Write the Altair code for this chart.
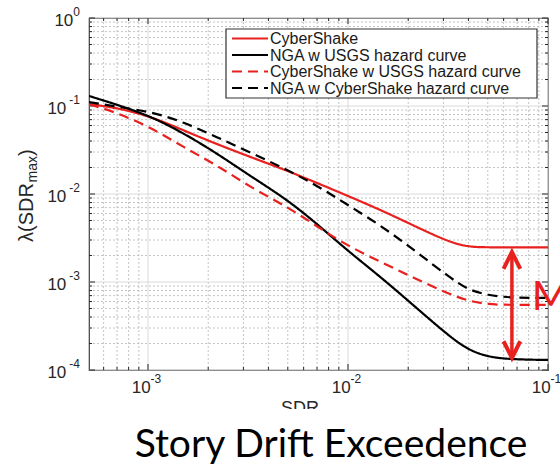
import altair as alt
import pandas as pd

# ---- data -------------------------------------------------------------
sdr = [5.07e-4, 7.1e-4, 1.05e-3, 1.5e-3, 2.2e-3, 3.3e-3, 5.0e-3, 7.2e-3,
       1.0e-2, 1.5e-2, 2.2e-2, 3.2e-2, 4.0e-2, 5.0e-2, 6.5e-2, 1.0e-1]

cybershake = [0.105, 0.095, 0.075, 0.053, 0.037, 0.026, 0.0183, 0.0130,
              0.0095, 0.0064, 0.00422, 0.00285, 0.0025, 0.00248, 0.00247, 0.00247]
nga_usgs = [0.130, 0.1026, 0.075, 0.0493, 0.0292, 0.0156, 0.00855, 0.00433,
            0.00225, 0.00108, 5.07e-4, 2.43e-4, 1.69e-4, 1.41e-4, 1.32e-4, 1.30e-4]
cybershake_usgs = [0.105, 0.083, 0.056, 0.0342, 0.0214, 0.0117, 0.0071, 0.00411,
                   0.00256, 0.00164, 0.00108, 7.3e-4, 6.1e-4, 5.55e-4, 5.5e-4, 5.5e-4]
nga_cybershake = [0.111, 0.0975, 0.0855, 0.0658, 0.0445, 0.0292, 0.0187, 0.0120,
                  0.0075, 0.0042, 0.0022, 0.00114, 8.1e-4, 7.1e-4, 6.6e-4, 6.6e-4]

series_names = ["CyberShake", "NGA w USGS hazard curve",
                "CyberShake w USGS hazard curve", "NGA w CyberShake hazard curve"]
series_colors = ["#e8201e", "#000000", "#e8201e", "#000000"]
series_dashes = [[1, 0], [1, 0], [10, 6], [10, 6]]

# double arrow marking the spread between the two tail levels
arrow_sdr = [0.066]
arrow_top = [0.00219]
arrow_bottom = [1.37e-4]

x_major = [1e-3, 1e-2, 1e-1]
x_exp = ["-3", "-2", "-1"]
y_major = [1e-4, 1e-3, 1e-2, 1e-1, 1.0]
y_exp = ["-4", "-3", "-2", "-1", "0"]
x_minor = [m * 10.0 ** e for e in (-4, -3, -2) for m in range(2, 10)
           if 5.07e-4 < m * 10.0 ** e < 0.1]
y_minor = [m * 10.0 ** e for e in (-4, -3, -2, -1) for m in range(2, 10)]

W, H = 459, 352
FONT = "Liberation Sans"
AXC = "#262626"
RED = "#e8201e"

# ---- tables -----------------------------------------------------------
curves = pd.concat([
    pd.DataFrame({"sdr": sdr, "lam": vals, "series": name})
    for name, vals in zip(series_names,
                          [cybershake, nga_usgs, cybershake_usgs, nga_cybershake])
])
xmaj = pd.DataFrame({"v": x_major, "e": x_exp})
ymaj = pd.DataFrame({"v": y_major, "e": y_exp})
xmin = pd.DataFrame({"v": x_minor})
ymin = pd.DataFrame({"v": y_minor})
arrow = pd.DataFrame({"x": arrow_sdr, "top": arrow_top, "bot": arrow_bottom})
one = pd.DataFrame({"a": [0]})

xs = alt.Scale(type="log", domain=[5.07e-4, 0.1], nice=False)
ys = alt.Scale(type="log", domain=[1e-4, 1.0], nice=False)

# ---- grid -------------------------------------------------------------
vgrid_minor = alt.Chart(xmin).mark_rule(color="#c4c4c4", strokeWidth=1, strokeDash=[2, 2]).encode(
    x=alt.X("v:Q", scale=xs, axis=None), y=alt.value(0), y2=alt.value(H))
hgrid_minor = alt.Chart(ymin).mark_rule(color="#c4c4c4", strokeWidth=1, strokeDash=[2, 2]).encode(
    y=alt.Y("v:Q", scale=ys, axis=None), x=alt.value(0), x2=alt.value(W))
vgrid_major = alt.Chart(xmaj).mark_rule(color="#dadada", strokeWidth=1).encode(
    x=alt.X("v:Q", scale=xs, axis=None), y=alt.value(0), y2=alt.value(H))
hgrid_major = alt.Chart(ymaj).mark_rule(color="#dadada", strokeWidth=1).encode(
    y=alt.Y("v:Q", scale=ys, axis=None), x=alt.value(0), x2=alt.value(W))

# ---- inward ticks on all four sides -------------------------------------
def xticks(df, length):
    bot = alt.Chart(df).mark_rule(color=AXC, strokeWidth=1).encode(
        x=alt.X("v:Q", scale=xs, axis=None), y=alt.value(H), y2=alt.value(H - length))
    top = alt.Chart(df).mark_rule(color=AXC, strokeWidth=1).encode(
        x=alt.X("v:Q", scale=xs, axis=None), y=alt.value(0), y2=alt.value(length))
    return [bot, top]

def yticks(df, length):
    left = alt.Chart(df).mark_rule(color=AXC, strokeWidth=1).encode(
        y=alt.Y("v:Q", scale=ys, axis=None), x=alt.value(0), x2=alt.value(length))
    right = alt.Chart(df).mark_rule(color=AXC, strokeWidth=1).encode(
        y=alt.Y("v:Q", scale=ys, axis=None), x=alt.value(W), x2=alt.value(W - length))
    return [left, right]

ticks = xticks(xmaj, 6) + xticks(xmin, 3) + yticks(ymaj, 6) + yticks(ymin, 3)

# ---- tick labels (10 with raised exponent) ------------------------------
xlab_base = alt.Chart(xmaj).mark_text(font=FONT, fontSize=17, color=AXC, align="right",
                                      baseline="middle", dx=2.6).encode(
    x=alt.X("v:Q", scale=xs, axis=None), y=alt.value(H + 18), text=alt.value("10"))
xlab_exp = alt.Chart(xmaj).mark_text(font=FONT, fontSize=12, color=AXC, align="left",
                                     baseline="middle", dx=2.6).encode(
    x=alt.X("v:Q", scale=xs, axis=None), y=alt.value(H + 9), text="e:N")

ylab_base = alt.Chart(ymaj).transform_calculate(
    lx="datum.e == '0' ? -15.7 : -22.7"
).mark_text(font=FONT, fontSize=17, color=AXC, align="right", baseline="middle", dy=3).encode(
    y=alt.Y("v:Q", scale=ys, axis=None), x=alt.X("lx:Q", scale=None), text=alt.value("10"))
ylab_exp = alt.Chart(ymaj).mark_text(font=FONT, fontSize=12, color=AXC, align="right",
                                     baseline="middle", dy=-6).encode(
    y=alt.Y("v:Q", scale=ys, axis=None), x=alt.value(-9), text="e:N")

# ---- axis titles: lambda(SDR_max) and SDR --------------------------------
ytitle_main = alt.Chart(one).mark_text(
    font=FONT, fontSize=20, color=AXC, angle=270, align="left", baseline="alphabetic").encode(
    x=alt.value(-56.5), y=alt.value(224), text=alt.value("λ(SDR"))
ytitle_sub = alt.Chart(one).mark_text(
    font=FONT, fontSize=14, color=AXC, angle=270, align="left", baseline="alphabetic").encode(
    x=alt.value(-52), y=alt.value(164.5), text=alt.value("max"))
ytitle_close = alt.Chart(one).mark_text(
    font=FONT, fontSize=20, color=AXC, angle=270, align="left", baseline="alphabetic").encode(
    x=alt.value(-56.5), y=alt.value(138), text=alt.value(")"))

xtitle = alt.Chart(one).mark_text(
    font=FONT, fontSize=18, color=AXC, align="center", baseline="top").encode(
    x=alt.value(211), y=alt.value(H + 30), text=alt.value("SDR"))

# ---- hazard curves ----------------------------------------------------
lines = alt.Chart(curves).mark_line(clip=True, strokeWidth=2.2, interpolate="basis",
                                    strokeCap="butt").encode(
    x=alt.X("sdr:Q", scale=xs, axis=None),
    y=alt.Y("lam:Q", scale=ys, axis=None),
    color=alt.Color("series:N", scale=alt.Scale(domain=series_names, range=series_colors),
                    legend=None),
    strokeDash=alt.StrokeDash("series:N",
                              scale=alt.Scale(domain=series_names, range=series_dashes),
                              legend=None),
    order=alt.Order("sdr:Q"),
)

# ---- legend box (upper right, inside the axes) ---------------------------
LX0, LX1, LY0, LY1 = 137, 448, 11, 80
ROW = 16.5
legend_box = alt.Chart(one).mark_rect(fill="white", stroke="#333333", strokeWidth=1.2).encode(
    x=alt.value(LX0), x2=alt.value(LX1), y=alt.value(LY0), y2=alt.value(LY1))
legend_layers = [legend_box]
for i, (name, col, dash) in enumerate(zip(series_names, series_colors, series_dashes)):
    ry = LY0 + 9.5 + ROW * i
    legend_layers.append(
        alt.Chart(one).mark_rule(color=col, strokeWidth=2.2, strokeDash=dash,
                                 strokeCap="butt").encode(
            x=alt.value(LX0 + 6), x2=alt.value(LX0 + 42), y=alt.value(ry)))
    legend_layers.append(
        alt.Chart(one).mark_text(font=FONT, fontSize=16, color="#1a1a1a", align="left",
                                 baseline="middle").encode(
            x=alt.value(LX0 + 44), y=alt.value(ry + 0.5), text=alt.value(name)))

# ---- double arrow ------------------------------------------------------
shaft = alt.Chart(arrow).mark_rule(color=RED, strokeWidth=3.5).encode(
    x=alt.X("x:Q", scale=xs, axis=None), y=alt.Y("top:Q", scale=ys, axis=None),
    y2="bot:Q")
head_top = alt.Chart(arrow).mark_point(shape="M-1,2L0,0L1,2", size=280, filled=False,
                                       stroke=RED, strokeWidth=4, opacity=1,
                                       strokeJoin="miter").encode(
    x=alt.X("x:Q", scale=xs, axis=None), y=alt.Y("top:Q", scale=ys, axis=None))
head_bot = alt.Chart(arrow).mark_point(shape="M-1,-2L0,0L1,-2", size=280, filled=False,
                                       stroke=RED, strokeWidth=4, opacity=1,
                                       strokeJoin="miter").encode(
    x=alt.X("x:Q", scale=xs, axis=None), y=alt.Y("bot:Q", scale=ys, axis=None))
m_label = alt.Chart(pd.DataFrame({"x": [0.083], "y": [6.6e-4], "t": ["M"]})).mark_text(
    font="Lato", fontSize=41, color=RED, align="left", baseline="middle").encode(
    x=alt.X("x:Q", scale=xs, axis=None), y=alt.Y("y:Q", scale=ys, axis=None), text="t:N")

# ---- slide caption ------------------------------------------------------
blank = alt.Chart(one).mark_rect(color="white").encode(
    x=alt.value(-89), x2=alt.value(W + 12), y=alt.value(H + 39), y2=alt.value(H + 96))
caption = alt.Chart(one).mark_text(
    font="Lato", fontSize=39, color="#000000", align="center", baseline="alphabetic").encode(
    x=alt.value(242), y=alt.value(H + 87), text=alt.value("Story Drift Exceedence"))

chart = alt.layer(
    vgrid_minor, hgrid_minor, vgrid_major, hgrid_major, *ticks,
    xlab_base, xlab_exp, ylab_base, ylab_exp,
    ytitle_main, ytitle_sub, ytitle_close, xtitle,
    lines, *legend_layers, shaft, head_top, head_bot, m_label, blank, caption,
).properties(
    width=W, height=H,
    autosize=alt.AutoSizeParams(type="none"),
    padding={"left": 89, "top": 18, "right": 12, "bottom": 96},
    background="white",
).configure_view(stroke="#404040", strokeWidth=1.2)

chart.save("out.html", embed_options={"renderer": "svg", "actions": False})
